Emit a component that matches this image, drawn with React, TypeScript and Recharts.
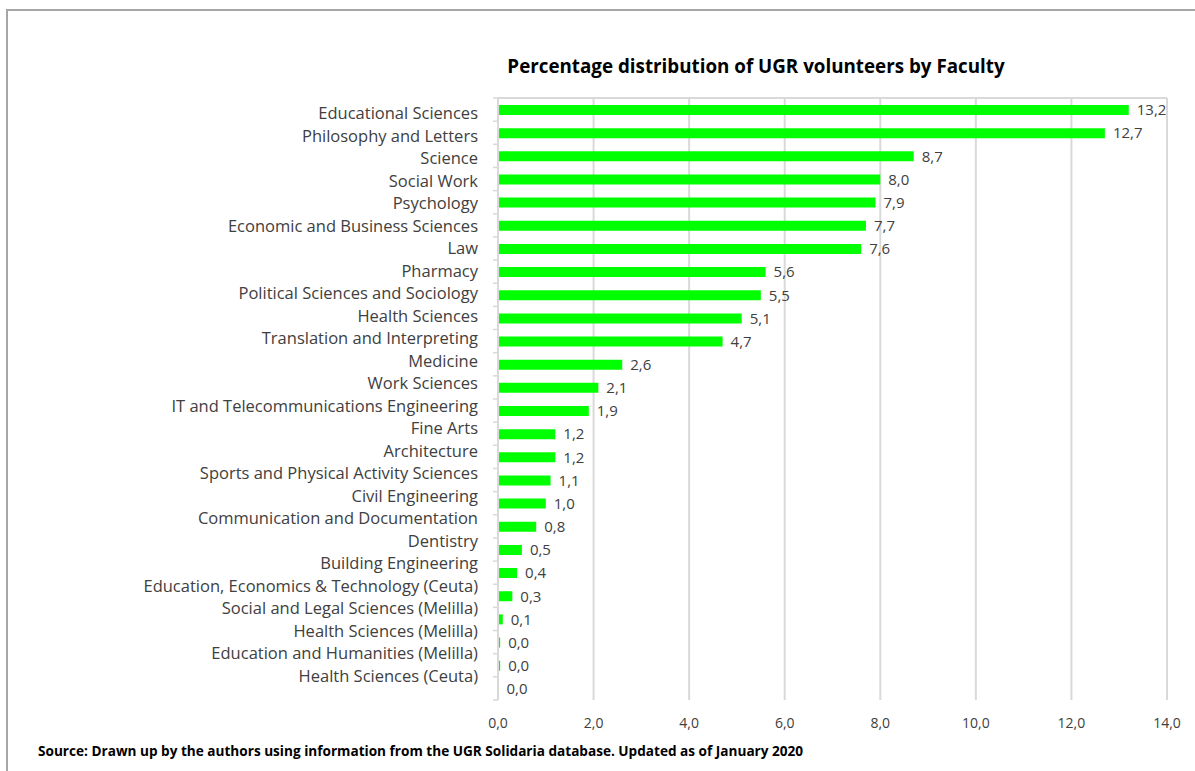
import React from 'react';
import { BarChart, Bar, XAxis, YAxis, CartesianGrid, LabelList } from 'recharts';

const faculties = [
  'Educational Sciences',
  'Philosophy and Letters',
  'Science',
  'Social Work',
  'Psychology',
  'Economic and Business Sciences',
  'Law',
  'Pharmacy',
  'Political Sciences and Sociology',
  'Health Sciences',
  'Translation and Interpreting',
  'Medicine',
  'Work Sciences',
  'IT and Telecommunications Engineering',
  'Fine Arts',
  'Architecture',
  'Sports and Physical Activity Sciences',
  'Civil Engineering',
  'Communication and Documentation',
  'Dentistry',
  'Building Engineering',
  'Education, Economics & Technology (Ceuta)',
  'Social and Legal Sciences (Melilla)',
  'Health Sciences (Melilla)',
  'Education and Humanities (Melilla)',
  'Health Sciences (Ceuta)',
];

// share of volunteers (%), one per faculty row
const percentages = [
  13.2, 12.7, 8.7, 8.0, 7.9, 7.7, 7.6, 5.6, 5.5, 5.1, 4.7, 2.6, 2.1, 1.9, 1.2, 1.2, 1.1, 1.0, 0.8, 0.5, 0.4, 0.3,
  0.1, 0.045, 0.045, 0.01,
];

const xTicks = [0, 2, 4, 6, 8, 10, 12, 14];

const data = faculties.map((name, i) => ({ name, value: percentages[i] }));

const FONT = '"Open Sans", Lato, sans-serif';
const TEXT = '#404040';
const GRID = '#d9d9d9';

const PLOT_TOP = 98;
const PLOT_H = 602;
const ROW_H = PLOT_H / faculties.length;

const fmt = (v: number) => Number(v).toFixed(1).replace('.', ',');

const Blank = () => <g />;

// faculty name + small tick mark on the row boundary
const FacultyTick = (props: any) => {
  const { x, y, payload, index } = props;
  const axisX = x + 20;
  // names in the source drift up a little relative to the bars going down the list
  const dy = 3 - index * 0.64;
  return (
    <g>
      <line x1={axisX - 5} x2={axisX} y1={y + ROW_H / 2} y2={y + ROW_H / 2} stroke={GRID} strokeWidth={1.5} />
      {index === 0 && <line x1={axisX - 5} x2={axisX} y1={y - ROW_H / 2} y2={y - ROW_H / 2} stroke={GRID} strokeWidth={1.5} />}
      <text x={x} y={y + dy} textAnchor="end" dominantBaseline="central" fontSize={16.5} fill={TEXT} fontFamily={FONT}>
        {payload.value}
      </text>
    </g>
  );
};

export default function App() {
  return (
    <div style={{ position: 'absolute', left: 0, top: 0, width: 1195, height: 771, background: '#fff', overflow: 'hidden', fontFamily: FONT }}>
      <div style={{ position: 'absolute', left: 6, top: 9, width: 1300, height: 900, borderTop: '2px solid #a6a6a6', borderLeft: '2px solid #a6a6a6' }} />
      <div style={{ position: 'absolute', left: 0, width: 1512, top: 53, textAlign: 'center', fontWeight: 700, fontSize: 18.8, color: '#000' }}>
        Percentage distribution of UGR volunteers by Faculty
      </div>
      <div style={{ position: 'absolute', left: 0, top: 0 }}>
        <BarChart
          width={1195}
          height={771}
          data={data}
          layout="vertical"
          barCategoryGap={0}
          margin={{ top: PLOT_TOP - 8, right: 28, bottom: 771 - PLOT_TOP - PLOT_H - 40, left: 0 }}
        >
          <CartesianGrid horizontal={false} stroke={GRID} strokeWidth={2} />
          <XAxis
            type="number"
            domain={[0, 14]}
            ticks={xTicks}
            tickFormatter={fmt}
            axisLine={false}
            tickLine={false}
            tickMargin={12}
            height={40}
            tick={{ fontSize: 14, fill: TEXT, fontFamily: FONT }}
          />
          <XAxis
            xAxisId="top"
            orientation="top"
            type="number"
            domain={[0, 14]}
            ticks={xTicks}
            height={8}
            tickSize={7}
            tick={Blank}
            axisLine={{ stroke: GRID, strokeWidth: 2 }}
            tickLine={{ stroke: GRID, strokeWidth: 2 }}
          />
          <YAxis
            type="category"
            dataKey="name"
            width={498}
            interval={0}
            axisLine={{ stroke: GRID, strokeWidth: 2 }}
            tickLine={false}
            tickSize={0}
            tickMargin={20}
            tick={<FacultyTick />}
          />
          <Bar dataKey="value" fill="#00ff00" barSize={10} isAnimationActive={false}>
            <LabelList dataKey="value" position="right" offset={8} formatter={(v: any) => fmt(v)} fontSize={15} fill={TEXT} fontFamily={FONT} />
          </Bar>
        </BarChart>
      </div>
      <div style={{ position: 'absolute', left: 38, top: 741, fontWeight: 700, fontSize: 13.6, color: '#000', whiteSpace: 'nowrap' }}>
        Source: Drawn up by the authors using information from the UGR Solidaria database. Updated as of January 2020
      </div>
    </div>
  );
}
